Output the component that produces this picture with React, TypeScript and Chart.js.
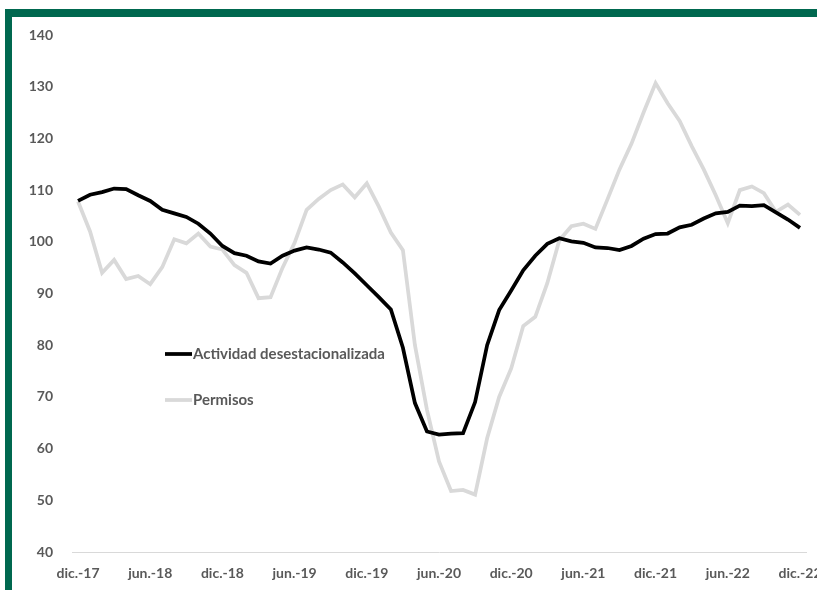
import React, { useEffect, useRef } from "react";
import { Chart, registerables } from "chart.js";

Chart.register(...registerables);

const monthNames = ["ene.", "feb.", "mar.", "abr.", "may.", "jun.", "jul.", "ago.", "sep.", "oct.", "nov.", "dic."];
const startYear = 17;
const months: string[] = [];
for (let k = 0; k < 61; k++) {
  const m = (11 + k) % 12;
  const y = startYear + Math.floor((11 + k) / 12);
  months.push(`${monthNames[m]}-${y}`);
}

const actividad: number[] = [
  107.9, 109.1, 109.6, 110.3, 110.2, 109.0, 107.9, 106.2, 105.5, 104.8,
  103.5, 101.6, 99.2, 97.8, 97.3, 96.2, 95.8, 97.3, 98.3, 98.9,
  98.5, 97.9, 96.0, 93.9, 91.6, 89.3, 86.9, 79.5, 68.8, 63.3,
  62.7, 62.9, 63.0, 69.0, 80.0, 86.8, 90.6, 94.5, 97.3, 99.6,
  100.7, 100.1, 99.8, 98.9, 98.8, 98.4, 99.2, 100.6, 101.5, 101.6,
  102.8, 103.3, 104.5, 105.5, 105.8, 107.0, 106.9, 107.1, 105.7, 104.3,
  102.7,
];

const permisos: number[] = [
  107.8, 102.0, 94.0, 96.5, 92.8, 93.4, 91.8, 95.1, 100.5, 99.7,
  101.6, 99.1, 98.5, 95.5, 94.0, 89.1, 89.3, 95.0, 99.8, 106.2,
  108.3, 110.0, 111.1, 108.6, 111.3, 106.8, 101.8, 98.4, 80.0, 67.5,
  57.5, 51.8, 52.0, 51.1, 62.0, 70.0, 75.5, 83.7, 85.5, 92.0,
  100.3, 103.0, 103.5, 102.5, 108.2, 114.0, 119.0, 125.0, 130.7, 126.8,
  123.4, 118.5, 114.0, 109.0, 103.6, 110.0, 110.7, 109.4, 105.8, 107.2,
  105.2,
];

const seriesNames = ["Actividad desestacionalizada", "Permisos"];
const seriesColors = ["#000000", "#D9D9D9"];

const yMin = 40;
const yMax = 140;
const yStep = 10;

const TEXT = "#595959";
const FONT = "Lato";

const legendPlugin = {
  id: "inlineLegend",
  afterDraw(chart: any) {
    const ctx = chart.ctx;
    ctx.save();
    const x0 = 165;
    const lineLen = 27;
    const rows = [354, 400];
    seriesNames.forEach((name, i) => {
      const y = rows[i];
      ctx.strokeStyle = seriesColors[i];
      ctx.lineWidth = 3.75;
      ctx.beginPath();
      ctx.moveTo(x0, y);
      ctx.lineTo(x0 + lineLen, y);
      ctx.stroke();
      ctx.fillStyle = TEXT;
      ctx.font = `bold 15px ${FONT}`;
      ctx.textBaseline = "middle";
      ctx.textAlign = "left";
      ctx.fillText(name, x0 + lineLen + 1, y);
    });
    ctx.restore();
  },
};

export default function App() {
  const ref = useRef<HTMLCanvasElement | null>(null);

  useEffect(() => {
    if (!ref.current) return;
    const chart = new Chart(ref.current, {
      type: "line",
      data: {
        labels: months,
        datasets: [
          {
            label: seriesNames[0],
            data: actividad,
            borderColor: seriesColors[0],
            backgroundColor: seriesColors[0],
            borderWidth: 3.75,
            pointRadius: 0,
            tension: 0,
            fill: false,
          },
          {
            label: seriesNames[1],
            data: permisos,
            borderColor: seriesColors[1],
            backgroundColor: seriesColors[1],
            borderWidth: 3.75,
            pointRadius: 0,
            tension: 0,
            fill: false,
          },
        ],
      },
      options: {
        responsive: false,
        animation: false,
        layout: { padding: { top: 35, right: 11, left: 0, bottom: 0 } },
        plugins: {
          legend: { display: false },
          tooltip: { enabled: false },
        },
        scales: {
          x: {
            type: "category",
            offset: true,
            grid: { display: false, drawTicks: false },
            border: { display: true, color: "#D9D9D9", width: 1 },
            ticks: {
              autoSkip: false,
              maxRotation: 0,
              minRotation: 0,
              padding: 13,
              color: TEXT,
              font: { family: FONT, size: 14, weight: "bold" },
              callback: (_v: any, idx: number) => (idx % 6 === 0 ? months[idx] : ""),
            },
            afterFit: (scale: any) => {
              scale.height = 38;
              scale.paddingLeft = 0;
              scale.paddingRight = 0;
            },
          },
          y: {
            min: yMin,
            max: yMax,
            grid: { display: false, drawTicks: false },
            border: { display: false },
            ticks: {
              stepSize: yStep,
              padding: 19,
              color: TEXT,
              font: { family: FONT, size: 14, weight: "bold" },
            },
            afterFit: (scale: any) => {
              scale.width = 72;
              scale.paddingTop = 0;
              scale.paddingBottom = 0;
            },
          },
        },
      },
      plugins: [legendPlugin],
    });
    return () => chart.destroy();
  }, []);

  return (
    <div style={{ position: "fixed", left: 0, top: 0, width: 817, height: 590, overflow: "hidden", background: "#FFFFFF" }}>
      <div style={{ position: "absolute", left: 5, top: 9, width: 812, height: 8, background: "#00684F" }} />
      <div style={{ position: "absolute", left: 5, top: 9, width: 7, height: 581, background: "#00684F" }} />
      <canvas ref={ref} width={817} height={590} style={{ position: "absolute", left: 0, top: 0, width: 817, height: 590 }} />
    </div>
  );
}
